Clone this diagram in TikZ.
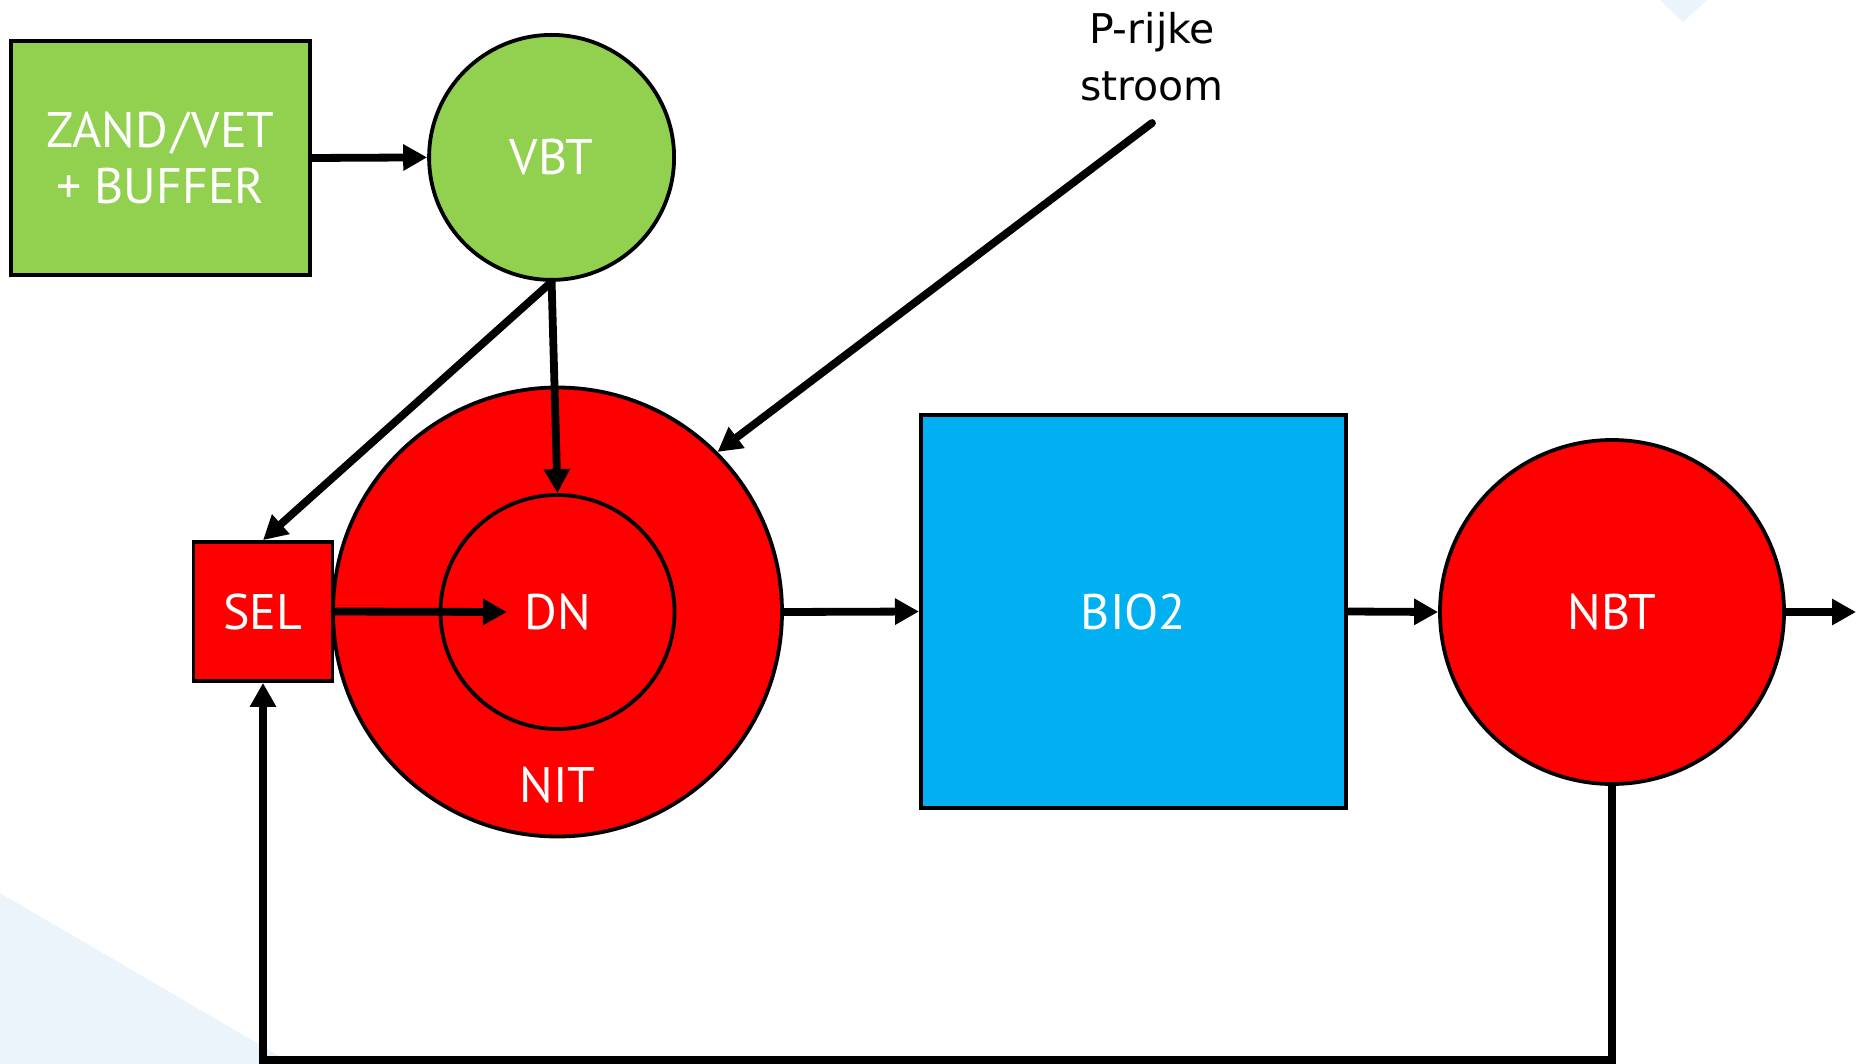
\documentclass[tikz,border=0pt]{standalone}
\usepackage{fontspec}
\setmainfont{PT Sans}
\newfontfamily\labelfont{DejaVu Sans}
\usetikzlibrary{arrows.meta,calc}
\definecolor{grn}{HTML}{92D050}
\definecolor{rd}{HTML}{FF0000}
\definecolor{blu}{HTML}{00B0F0}
\definecolor{bgblue}{RGB}{235,243,251}
\begin{document}
\begin{tikzpicture}[x=0.5pt,y=-0.5pt,
  lbl/.style={text=white,font=\fontsize{25}{28}\selectfont,inner sep=0pt,align=center},
  unit/.style={lbl,draw=black,line width=1.9pt},
  boxunit/.style={unit,rectangle},
  circunit/.style={unit,circle},
  flow/.style={line width=3.9pt,line cap=round,-{Triangle[length=12pt,width=12.5pt]}},
  ptext/.style={font=\labelfont\fontsize{20.5}{28.5}\selectfont,align=center,text=black,inner sep=0pt}]
\useasboundingbox (0,0) rectangle (1856,1064);
% background decorations
\fill[bgblue] (0,893) -- (293,1064) -- (0,1064) -- cycle;
\fill[bgblue] (1660,0) -- (1707,0) -- (1683,22) -- cycle;
% units
\node[boxunit,fill=grn,minimum width=149.5pt,minimum height=117pt] (ZV) at (160.4,158) {ZAND\kern1.5pt/\kern1.5pt VET\\+ BUFFER};
\node[circunit,fill=grn,minimum size=122.5pt] (VBT) at (551.6,157.4) {VBT};
\node[circunit,fill=rd,minimum size=224.5pt] (NIT) at (557.5,612) {};
\node[circunit,fill=rd,minimum size=117pt] (DN) at (557.5,612) {DN};
\node[lbl] (NITl) at (557.5,785) {NIT};
\node[boxunit,fill=rd,minimum size=69.5pt] (SEL) at (263,611.5) {SEL};
\node[boxunit,fill=blu,minimum width=212.5pt,minimum height=196.5pt] (BIO) at (1133.4,611.5) {BIO2};
\node[circunit,fill=rd,minimum size=172pt] (NBT) at (1612,612) {NBT};
\node[ptext] (P) at (1152,57) {P-rijke\\stroom};
% helper coordinates
\coordinate (pstart) at (1152,123);
\coordinate (dnin) at (507,612);
\coordinate (out) at (1856,612);
\coordinate (loopy) at (0,1060);
% connectors
\draw[flow] (ZV.east) -- (VBT.west);
\draw[flow] (VBT.south) -- (SEL.north);
\draw[flow] (VBT.south) -- (DN.north);
\draw[flow] (pstart) -- (NIT.45);
\draw[flow] (SEL.east) -- (dnin);
\draw[flow] (NIT.east) -- (BIO.west);
\draw[flow] (BIO.east) -- (NBT.west);
\draw[flow] (NBT.east) -- (out);
\draw[flow] (NBT.south) -- (NBT.south |- loopy) -| (SEL.south);
\end{tikzpicture}
\end{document}
